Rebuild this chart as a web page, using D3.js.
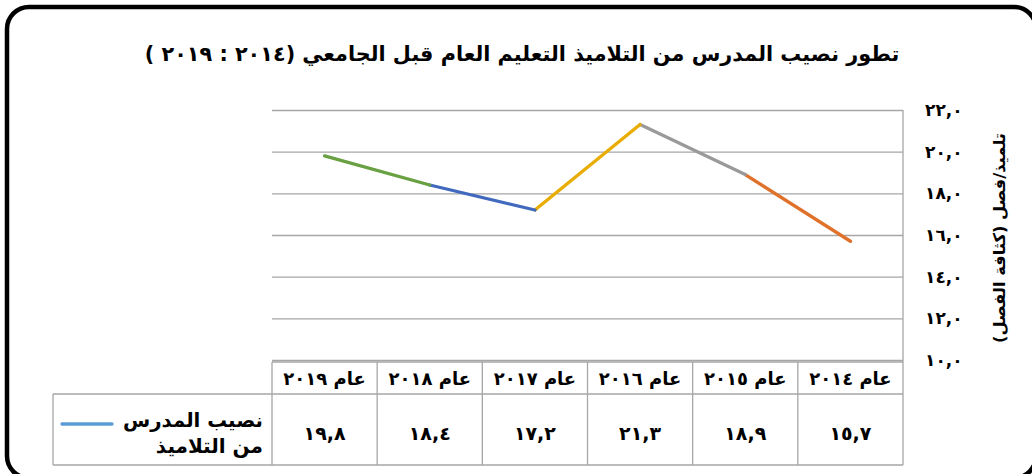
<!DOCTYPE html>
<html lang="ar">
<head>
<meta charset="utf-8">
<script src="https://cdn.jsdelivr.net/npm/d3@7"></script>
<style>
  body { margin: 0; background: #fff; }
  svg text { font-family: "DejaVu Sans", sans-serif; font-weight: bold; fill: #000; }
</style>
</head>
<body>
<svg id="chart"></svg>
<script>
// data
const years = ["عام ٢٠١٤", "عام ٢٠١٥", "عام ٢٠١٦", "عام ٢٠١٧", "عام ٢٠١٨", "عام ٢٠١٩"]
const values = [15.7, 18.9, 21.3, 17.2, 18.4, 19.8]
const segColors = ["#E0712B", "#9A9A9A", "#E8AD00", "#4169BE", "#68A042"]
const yTicks = [10, 12, 14, 16, 18, 20, 22]
const title = "تطور نصيب المدرس من التلاميذ التعليم العام قبل الجامعي (٢٠١٤ : ٢٠١٩ )"
const yTitle = "تلميذ/فصل (كثافة الفصل)"
const seriesName = ["نصيب المدرس", "من التلاميذ"]

// constants
const width = 1032
const height = 474
const plot = { left: 272, right: 903, top: 110, bottom: 360 }
const table = { left: 53, top: 362, mid: 394, bottom: 465 }
const gridColor = "#A6A6A6"

const svg = d3.select('svg#chart').attr('width', width).attr('height', height)

// arabic-indic digits, comma as decimal sign
const arDigits = "٠١٢٣٤٥٦٧٨٩"
const toArabic = (v) => d3.format(".1f")(v).replace(/\d/g, c => arDigits[+c]).replace(".", ",")

// fit a text element into a width by shrinking the font
function fitText(sel, maxW, size) {
  sel.style('font-size', size + 'px')
  const w = sel.node().getComputedTextLength()
  if (w > maxW) sel.style('font-size', (size * maxW / w) + 'px')
}

// outer frame (right side runs just past the window)
svg.append('rect')
  .attr('x', 7).attr('y', 7)
  .attr('width', 1029).attr('height', 471)
  .attr('rx', 22).attr('ry', 22)
  .attr('fill', 'none').attr('stroke', '#000').attr('stroke-width', 4.5)

// title
const t = svg.append('text')
  .attr('x', 522).attr('y', 54)
  .attr('direction', 'rtl')
  .attr('text-anchor', 'middle')
  .attr('dominant-baseline', 'central')
  .text(title)
fitText(t, 755, 24)

// scales
const x = d3.scaleBand().domain(years).range([plot.right, plot.left])
const y = d3.scaleLinear().domain([10, 22]).range([plot.bottom, plot.top])

// gridlines
const grid = svg.append('g')
  .attr('transform', 'translate(' + plot.right + ',0)')
  .call(d3.axisLeft(y).tickValues(yTicks).tickSize(plot.right - plot.left).tickFormat(''))
grid.select('.domain').remove()
grid.selectAll('line').attr('stroke', gridColor).attr('stroke-width', 1.3)

// right axis line
svg.append('line')
  .attr('x1', plot.right).attr('x2', plot.right)
  .attr('y1', plot.top).attr('y2', table.top)
  .attr('stroke', gridColor).attr('stroke-width', 1.3)

// tick labels
const yAxis = svg.append('g')
  .attr('transform', 'translate(925,0)')
  .call(d3.axisRight(y).tickValues(yTicks).tickSize(0).tickPadding(0).tickFormat(toArabic))
yAxis.select('.domain').remove()
yAxis.selectAll('text')
  .style('font-family', '"DejaVu Sans", sans-serif')
  .style('font-weight', 'bold')
  .style('font-size', '17px')
  .attr('fill', '#000')

// axis title
const yt = svg.append('text')
  .attr('transform', 'translate(999,238) rotate(-90)')
  .attr('direction', 'rtl')
  .attr('text-anchor', 'middle')
  .attr('dominant-baseline', 'central')
  .text(yTitle)
fitText(yt, 210, 19)

// line, one segment per pair of years
const pts = years.map((d, i) => [x(d) + x.bandwidth() / 2, y(values[i])])
const line = d3.line()
for (let i = 0; i < pts.length - 1; i++) {
  svg.append('path')
    .attr('d', line([pts[i], pts[i + 1]]))
    .attr('fill', 'none')
    .attr('stroke', segColors[i])
    .attr('stroke-width', 3.3)
    .attr('stroke-linecap', 'round')
}

// data table
const tg = svg.append('g')
const tline = (x1, y1, x2, y2) => tg.append('line')
  .attr('x1', x1).attr('y1', y1).attr('x2', x2).attr('y2', y2)
  .attr('stroke', gridColor).attr('stroke-width', 1.3)

tline(plot.left, table.top, plot.right, table.top)
tline(table.left, table.mid, plot.right, table.mid)
tline(table.left, table.bottom, plot.right, table.bottom)
tline(table.left, table.mid, table.left, table.bottom)
years.forEach(d => {
  tline(x(d), table.top, x(d), table.bottom)
})
tline(plot.right, table.top, plot.right, table.bottom)

// header cells
years.forEach(d => {
  const h = tg.append('text')
    .attr('x', x(d) + x.bandwidth() / 2).attr('y', (table.top + table.mid) / 2)
    .attr('direction', 'rtl')
    .attr('text-anchor', 'middle')
    .attr('dominant-baseline', 'central')
    .text(d)
  fitText(h, 90, 18)
})

// value cells
values.forEach((v, i) => {
  tg.append('text')
    .attr('x', x(years[i]) + x.bandwidth() / 2).attr('y', (table.mid + table.bottom) / 2 + 3)
    .attr('text-anchor', 'middle')
    .attr('dominant-baseline', 'central')
    .style('font-size', '19px')
    .text(toArabic(v))
})

// legend cell
seriesName.forEach((s, i) => {
  const l = tg.append('text')
    .attr('x', 263).attr('y', 420 + i * 26)
    .attr('direction', 'rtl')
    .attr('text-anchor', 'start')
    .attr('dominant-baseline', 'central')
    .text(s)
  fitText(l, 140, 20)
})
tg.append('line')
  .attr('x1', 62).attr('x2', 112)
  .attr('y1', 424).attr('y2', 424)
  .attr('stroke', '#5B9BD5').attr('stroke-width', 3.3)
  .attr('stroke-linecap', 'round')
</script>
</body>
</html>
